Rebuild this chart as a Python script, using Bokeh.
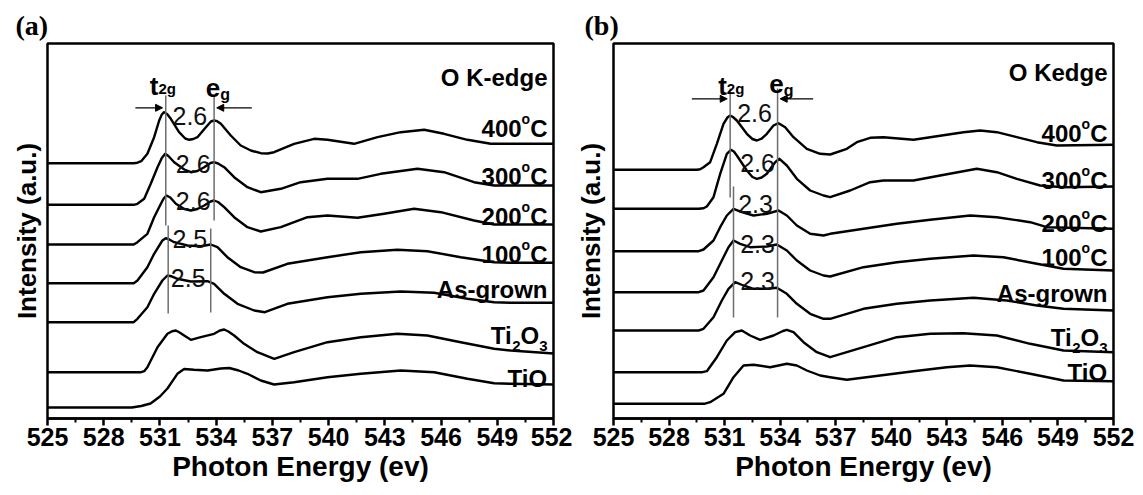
import math
from bokeh.plotting import figure
from bokeh.layouts import row
from bokeh.models import Label, Arrow, NormalHead, FixedTicker
from bokeh.embed import file_html
from bokeh.resources import INLINE

SANS = "Liberation Sans"
SERIF = "Liberation Serif"

# ---------------- data: panel (a) ----------------
A_400_E = [525.0, 529.6, 529.8, 530.0, 530.33, 530.69, 530.96, 531.1, 531.22, 531.38, 531.58, 532.02, 532.35, 532.56, 532.78, 533.0, 533.45, 533.72, 533.89, 534.05, 534.25, 534.78, 535.31, 535.85, 536.38, 536.75, 537.09, 538.16, 539.23, 539.94, 541.36, 542.61, 543.85, 545.1, 546.16, 547.41, 548.65, 549.72, 552.0]
A_400_I = [255.3, 255.3, 255.8, 257.3, 264.7, 281.3, 298.0, 304.0, 306.3, 304.5, 299.7, 286.3, 280.0, 278.7, 279.5, 281.3, 291.3, 297.0, 298.0, 297.3, 294.7, 283.0, 273.0, 268.0, 265.3, 265.0, 266.3, 274.7, 279.7, 278.7, 274.7, 281.3, 286.3, 288.7, 284.7, 278.7, 274.7, 274.7, 274.7]
A_300_E = [525.0, 529.6, 529.8, 530.16, 530.51, 530.87, 531.1, 531.28, 531.45, 531.76, 532.3, 532.65, 533.0, 533.36, 533.7, 533.89, 534.1, 534.43, 534.96, 535.67, 536.38, 537.45, 538.51, 539.94, 541.54, 542.78, 544.74, 546.16, 547.76, 548.83, 549.72, 552.0]
A_300_I = [213.7, 213.7, 214.7, 219.7, 234.7, 251.3, 260.5, 264.7, 262.5, 256.3, 249.0, 246.3, 247.5, 251.3, 255.5, 256.3, 255.0, 251.3, 241.3, 231.3, 226.3, 229.7, 236.3, 239.7, 239.7, 244.7, 249.7, 246.3, 236.3, 233.0, 233.0, 233.0]
A_200_E = [525.0, 529.6, 529.8, 530.33, 530.69, 531.05, 531.2, 531.35, 531.55, 531.85, 532.3, 532.65, 533.0, 533.36, 533.7, 533.89, 534.1, 534.43, 534.96, 535.67, 536.38, 537.45, 538.87, 539.94, 541.54, 542.96, 544.56, 545.99, 547.76, 548.83, 549.72, 552.0]
A_200_I = [174.0, 174.0, 176.3, 184.7, 201.3, 214.7, 220.0, 223.0, 221.0, 214.7, 209.5, 208.0, 209.5, 213.0, 217.0, 218.0, 216.5, 211.3, 201.3, 191.3, 187.0, 191.3, 201.3, 203.0, 200.7, 204.7, 209.7, 206.3, 198.0, 194.0, 194.0, 194.0]
A_100_E = [525.0, 529.6, 529.8, 530.33, 530.69, 531.13, 531.31, 531.5, 531.76, 532.47, 533.18, 533.71, 534.07, 534.6, 535.31, 536.03, 536.5, 537.8, 539.94, 541.72, 543.67, 545.27, 547.05, 548.83, 549.72, 552.0]
A_100_I = [135.3, 135.3, 138.0, 151.3, 164.7, 178.0, 180.3, 179.0, 176.3, 173.0, 172.3, 174.0, 171.3, 161.3, 151.3, 146.3, 146.0, 154.7, 161.3, 166.3, 168.7, 167.3, 161.3, 156.3, 155.7, 155.7]
A_AG_E = [525.0, 529.6, 529.8, 530.33, 530.69, 531.13, 531.4, 531.6, 531.93, 532.65, 533.54, 533.89, 534.43, 535.14, 536.03, 536.6, 537.8, 539.94, 541.72, 543.85, 545.63, 547.41, 548.83, 549.72, 552.0]
A_AG_I = [96.3, 96.3, 99.7, 111.3, 124.7, 138.0, 143.0, 142.3, 139.7, 137.0, 137.3, 134.7, 124.7, 114.7, 108.0, 106.3, 114.7, 121.3, 124.7, 127.0, 125.7, 119.7, 116.3, 115.7, 115.7]
A_TI2O3_E = [525.0, 530.0, 530.16, 530.33, 530.87, 531.4, 531.65, 531.85, 532.05, 532.29, 532.65, 533.18, 533.89, 534.2, 534.43, 534.65, 534.96, 535.49, 536.2, 537.1, 538.16, 539.94, 541.72, 543.67, 545.27, 547.05, 548.83, 549.72, 552.0]
A_TI2O3_I = [46.3, 46.3, 47.3, 51.3, 71.3, 84.7, 87.3, 88.0, 86.0, 83.0, 78.7, 81.3, 84.7, 88.0, 89.0, 87.0, 83.0, 74.7, 66.3, 59.7, 66.3, 76.3, 81.3, 84.7, 83.0, 76.3, 69.7, 68.0, 65.0]
A_TIO_E = [525.0, 529.5, 530.0, 530.5, 531.0, 531.4, 531.93, 532.29, 532.82, 533.54, 534.25, 534.7, 535.2, 535.67, 536.38, 537.09, 538.16, 539.94, 541.72, 543.85, 545.63, 547.41, 548.83, 549.72, 552.0]
A_TIO_I = [11.0, 11.0, 12.5, 15.0, 22.0, 30.0, 44.7, 49.5, 48.7, 48.0, 50.0, 50.5, 48.0, 44.7, 38.0, 34.0, 36.3, 41.3, 44.7, 48.0, 46.3, 39.7, 35.3, 34.7, 34.0]

# ---------------- data: panel (b) ----------------
B_400_E = [525.0, 529.5, 529.68, 529.86, 530.22, 530.58, 530.94, 531.15, 531.3, 531.45, 531.66, 532.2, 532.5, 532.74, 533.0, 533.28, 533.64, 533.91, 534.27, 534.72, 535.44, 536.16, 536.7, 537.6, 538.14, 538.86, 539.58, 541.2, 542.1, 543.9, 544.8, 545.7, 546.78, 547.86, 548.94, 552.0]
B_400_I = [248.7, 248.7, 249.3, 251.3, 256.3, 274.7, 294.7, 301.0, 303.0, 301.5, 298.0, 284.7, 279.5, 278.0, 279.8, 284.7, 293.0, 295.3, 291.3, 281.3, 269.7, 264.7, 264.0, 269.7, 276.3, 280.7, 281.3, 278.7, 281.3, 286.3, 288.0, 286.3, 281.3, 276.3, 273.0, 273.7]
B_300_E = [525.0, 529.6, 529.86, 530.04, 530.4, 530.76, 531.12, 531.34, 531.5, 531.66, 532.2, 532.5, 532.74, 533.0, 533.28, 533.73, 533.96, 534.36, 534.9, 535.62, 536.34, 536.7, 537.78, 538.86, 539.58, 541.2, 542.64, 544.62, 545.7, 546.78, 548.04, 549.3, 552.0]
B_300_I = [209.7, 209.7, 210.2, 212.0, 221.3, 244.7, 264.7, 268.7, 267.0, 263.0, 248.0, 241.5, 239.7, 241.0, 244.7, 256.3, 259.7, 253.0, 239.7, 228.0, 223.0, 221.3, 228.0, 236.3, 238.0, 238.0, 243.0, 249.7, 246.3, 239.7, 233.0, 231.3, 232.0]
B_200_E = [525.0, 529.6, 529.86, 530.4, 530.76, 531.12, 531.48, 531.93, 532.56, 533.28, 533.91, 534.36, 534.9, 535.62, 536.34, 536.7, 538.5, 540.3, 542.1, 544.26, 545.7, 547.5, 548.4, 552.0]
B_200_I = [167.3, 167.3, 169.0, 178.0, 191.3, 203.0, 209.7, 206.3, 203.0, 204.7, 208.0, 203.0, 193.0, 184.7, 183.0, 184.7, 189.7, 194.7, 198.7, 203.0, 201.3, 196.3, 191.3, 189.7]
B_100_E = [525.0, 529.6, 529.86, 530.4, 530.85, 531.21, 531.48, 531.84, 532.38, 533.28, 533.82, 534.36, 534.9, 535.62, 536.34, 536.7, 538.5, 540.3, 542.1, 544.44, 546.06, 547.86, 549.3, 552.0]
B_100_I = [126.3, 126.3, 128.0, 141.3, 158.0, 171.3, 178.0, 174.7, 171.3, 172.0, 174.0, 168.0, 158.0, 148.0, 143.0, 142.0, 151.3, 156.3, 159.7, 163.0, 161.3, 154.7, 149.7, 148.0]
B_AG_E = [525.0, 529.6, 529.86, 530.4, 530.85, 531.21, 531.57, 532.02, 532.56, 533.28, 533.82, 534.36, 534.9, 535.62, 536.34, 536.7, 538.5, 540.3, 542.1, 544.44, 546.24, 547.86, 549.3, 552.0]
B_AG_I = [88.0, 88.0, 89.7, 101.3, 118.0, 129.7, 136.3, 133.0, 129.7, 129.7, 130.7, 124.7, 114.7, 104.7, 99.7, 99.7, 109.7, 114.7, 118.0, 120.7, 118.0, 113.0, 109.7, 108.0]
B_TI2O3_E = [525.0, 529.8, 530.04, 530.58, 531.12, 531.57, 531.93, 532.38, 532.92, 533.64, 534.15, 534.36, 534.72, 535.26, 535.98, 536.7, 538.5, 540.3, 542.1, 543.9, 545.7, 547.5, 549.3, 552.0]
B_TI2O3_I = [46.3, 46.3, 47.3, 61.3, 78.0, 86.3, 88.0, 83.0, 78.7, 83.0, 87.5, 88.7, 86.3, 76.3, 66.3, 61.3, 71.3, 81.3, 84.7, 85.3, 83.0, 74.7, 68.0, 66.3]
B_TIO_E = [525.0, 529.9, 530.22, 530.94, 531.48, 532.02, 532.56, 533.46, 534.36, 534.9, 535.44, 536.16, 536.7, 537.6, 539.4, 541.2, 543.0, 544.26, 545.7, 547.5, 549.3, 552.0]
B_TIO_I = [14.7, 14.7, 16.3, 24.7, 41.3, 53.0, 53.7, 51.3, 54.7, 53.0, 48.0, 43.0, 41.3, 38.7, 43.0, 47.3, 51.3, 53.0, 51.3, 44.7, 38.0, 37.3]

SERIES_NAMES = ["400°C", "300°C", "200°C", "100°C", "As-grown", "Ti2O3", "TiO"]
A_LABEL_Y = [290, 242, 202, 164, 129, 83, 40]
B_LABEL_Y = [285, 238, 195, 161, 125, 81, 46]

X_TICKS = [525, 528, 531, 534, 537, 540, 543, 546, 549, 552]
X_MINOR = [526.5, 529.5, 532.5, 535.5, 538.5, 541.5, 544.5, 547.5, 550.5]

# peak-marker lines (eV) and their vertical extents
A_LINE_X = [531.31, 531.44, 533.89, 533.71]
A_LINE_Y0 = [193, 105, 198, 106]
A_LINE_Y1 = [323, 193, 323, 190]
B_LINE_X = [531.30, 531.48, 533.86]
B_LINE_Y0 = [221, 101, 101]
B_LINE_Y1 = [330, 232, 330]

# splitting values
A_SPLIT = ["2.6", "2.6", "2.6", "2.5", "2.5"]
A_SPLIT_X = [531.67, 531.85, 531.85, 531.67, 531.58]
A_SPLIT_Y = [303, 255, 218, 180, 141]
B_SPLIT = ["2.6", "2.6", "2.3", "2.3", "2.3"]
B_SPLIT_X = [531.68, 531.84, 531.73, 531.84, 531.84]
B_SPLIT_Y = [306, 256, 215, 175, 138]

CW = {c: .556 for c in "0123456789"}
CW.update({"C": .722, "o": .611, "A": .722, "s": .556, "-": .333, "g": .611, "r": .389,
           "w": .778, "n": .611, "T": .611, "i": .278, "O": .778, " ": .278, "K": .722,
           "e": .556, "d": .611, "t": .333})


def tw(s, size):
    return sum(CW.get(c, .6) for c in s) * size


def rich(p, x, y, parts, align="right", dx=0.0):
    total = sum(tw(t, s) for t, s, dy in parts)
    off = (-total if align == "right" else 0.0) + dx
    for t, s, dy in parts:
        p.add_layout(Label(x=x, y=y, x_offset=off, y_offset=dy, text=t,
                           text_font=SANS, text_font_size=f"{s}px",
                           text_font_style="bold", text_color="black",
                           text_align="left", text_baseline="alphabetic"))
        off += tw(t, s)


def name_parts(name):
    if name.endswith("°C"):
        return [(name[:-2], 24, 0), ("o", 14, 10), ("C", 24, 0)]
    if name == "Ti2O3":
        return [("Ti", 24, 0), ("2", 15, -10), ("O", 24, 0), ("3", 15, -10)]
    return [(name, 24, 0)]


def make_panel(tag, tag_dx, ytitle_standoff, curves, label_y, header, header_y,
               line_x, line_y0, line_y1, splits, split_x, split_y,
               arrow_y, arrow_l, arrow_r, t_pos, e_pos,
               width, fl, fr):
    p = figure(width=width, height=495, x_range=(525, 552), y_range=(0, 375),
               output_backend="svg", toolbar_location=None,
               min_border_left=fl, min_border_right=fr,
               min_border_top=43, min_border_bottom=77)
    p.xgrid.visible = False
    p.ygrid.visible = False
    p.outline_line_color = "black"
    p.outline_line_width = 2.5
    p.background_fill_color = "white"
    p.border_fill_color = "white"

    # panel tag as title
    p.title.text = tag
    p.title.text_font = SERIF
    p.title.text_font_size = "28px"
    p.title.text_font_style = "bold"
    p.title.text_color = "black"
    p.title.align = "left"
    p.title.offset = tag_dx
    p.title.standoff = 5

    ax = p.xaxis[0]
    ax.ticker = FixedTicker(ticks=X_TICKS, minor_ticks=X_MINOR)
    ax.axis_label = "Photon Energy (ev)"
    ax.axis_label_text_font = SANS
    ax.axis_label_text_font_size = "28px"
    ax.axis_label_text_font_style = "bold"
    ax.axis_label_text_color = "black"
    ax.major_label_text_font = SANS
    ax.major_label_text_font_size = "25px"
    ax.major_label_text_font_style = "bold"
    ax.major_label_text_color = "black"
    ax.axis_line_width = 2.5
    ax.axis_line_color = "black"
    ax.major_tick_line_width = 2.5
    ax.major_tick_line_color = "black"
    ax.major_tick_out = 7
    ax.major_tick_in = 0
    ax.minor_tick_line_width = 2
    ax.minor_tick_line_color = "black"
    ax.minor_tick_out = 4
    ax.minor_tick_in = 0
    ax.major_label_standoff = 2
    ax.axis_label_standoff = 2

    yax = p.yaxis[0]
    yax.ticker = FixedTicker(ticks=[])
    yax.axis_line_color = None
    yax.major_tick_line_color = None
    yax.minor_tick_line_color = None
    yax.major_tick_out = 0
    yax.major_tick_in = 0
    yax.minor_tick_out = 0
    yax.minor_tick_in = 0
    yax.major_label_standoff = 0
    yax.major_label_text_font_size = "0px"
    yax.axis_label = "Intensity (a.u.)"
    yax.axis_label_text_font = SANS
    yax.axis_label_text_font_size = "26px"
    yax.axis_label_text_font_style = "bold"
    yax.axis_label_text_color = "black"
    yax.axis_label_standoff = ytitle_standoff

    for ex, iy in curves:
        p.line(ex, iy, line_color="black", line_width=2.4, line_join="round")

    p.segment(x0=line_x, y0=line_y0, x1=line_x, y1=line_y1,
              line_color="#6e6e6e", line_width=1.5)

    for t, x, y in zip(splits, split_x, split_y):
        p.add_layout(Label(x=x, y=y, text=t, text_font=SANS, text_font_size="25px",
                           text_color="#111111", text_align="left",
                           text_baseline="alphabetic"))

    for x0, x1 in (arrow_l, arrow_r):
        p.add_layout(Arrow(end=NormalHead(size=7, fill_color="black", line_color="black", line_width=1),
                           x_start=x0, y_start=arrow_y, x_end=x1, y_end=arrow_y,
                           line_color="black", line_width=1.3))

    rich(p, t_pos[0], t_pos[1], [("t", 26, 0), ("2g", 15, -3)], align="left")
    rich(p, e_pos[0], e_pos[1], [("e", 26, 0), ("g", 16, -7)], align="left")

    rich(p, 552, header_y, [(header, 24, 0)], dx=-6)
    for name, y in zip(SERIES_NAMES, label_y):
        rich(p, 552, y, name_parts(name), dx=-6)
    return p


curves_a = [(A_400_E, A_400_I), (A_300_E, A_300_I), (A_200_E, A_200_I), (A_100_E, A_100_I),
            (A_AG_E, A_AG_I), (A_TI2O3_E, A_TI2O3_I), (A_TIO_E, A_TIO_I)]
curves_b = [(B_400_E, B_400_I), (B_300_E, B_300_I), (B_200_E, B_200_I), (B_100_E, B_100_I),
            (B_AG_E, B_AG_I), (B_TI2O3_E, B_TI2O3_I), (B_TIO_E, B_TIO_I)]

pa = make_panel("(a)", -32, 6, curves_a, A_LABEL_Y, "O K-edge", 341,
                A_LINE_X, A_LINE_Y0, A_LINE_Y1, A_SPLIT, A_SPLIT_X, A_SPLIT_Y,
                310.7, (529.69, 531.14), (535.90, 534.03), (530.46, 333), (533.45, 331),
                width=572, fl=47, fr=19)
pb = make_panel("(b)", -29, 8, curves_b, B_LABEL_Y, "O Kedge", 346,
                B_LINE_X, B_LINE_Y0, B_LINE_Y1, B_SPLIT, B_SPLIT_X, B_SPLIT_Y,
                319.7, (529.23, 531.14), (535.78, 534.0), (530.65, 333), (533.41, 335),
                width=571, fl=41, fr=30)

layout = row(pa, pb)
open("out.html", "w").write(file_html(layout, INLINE))
